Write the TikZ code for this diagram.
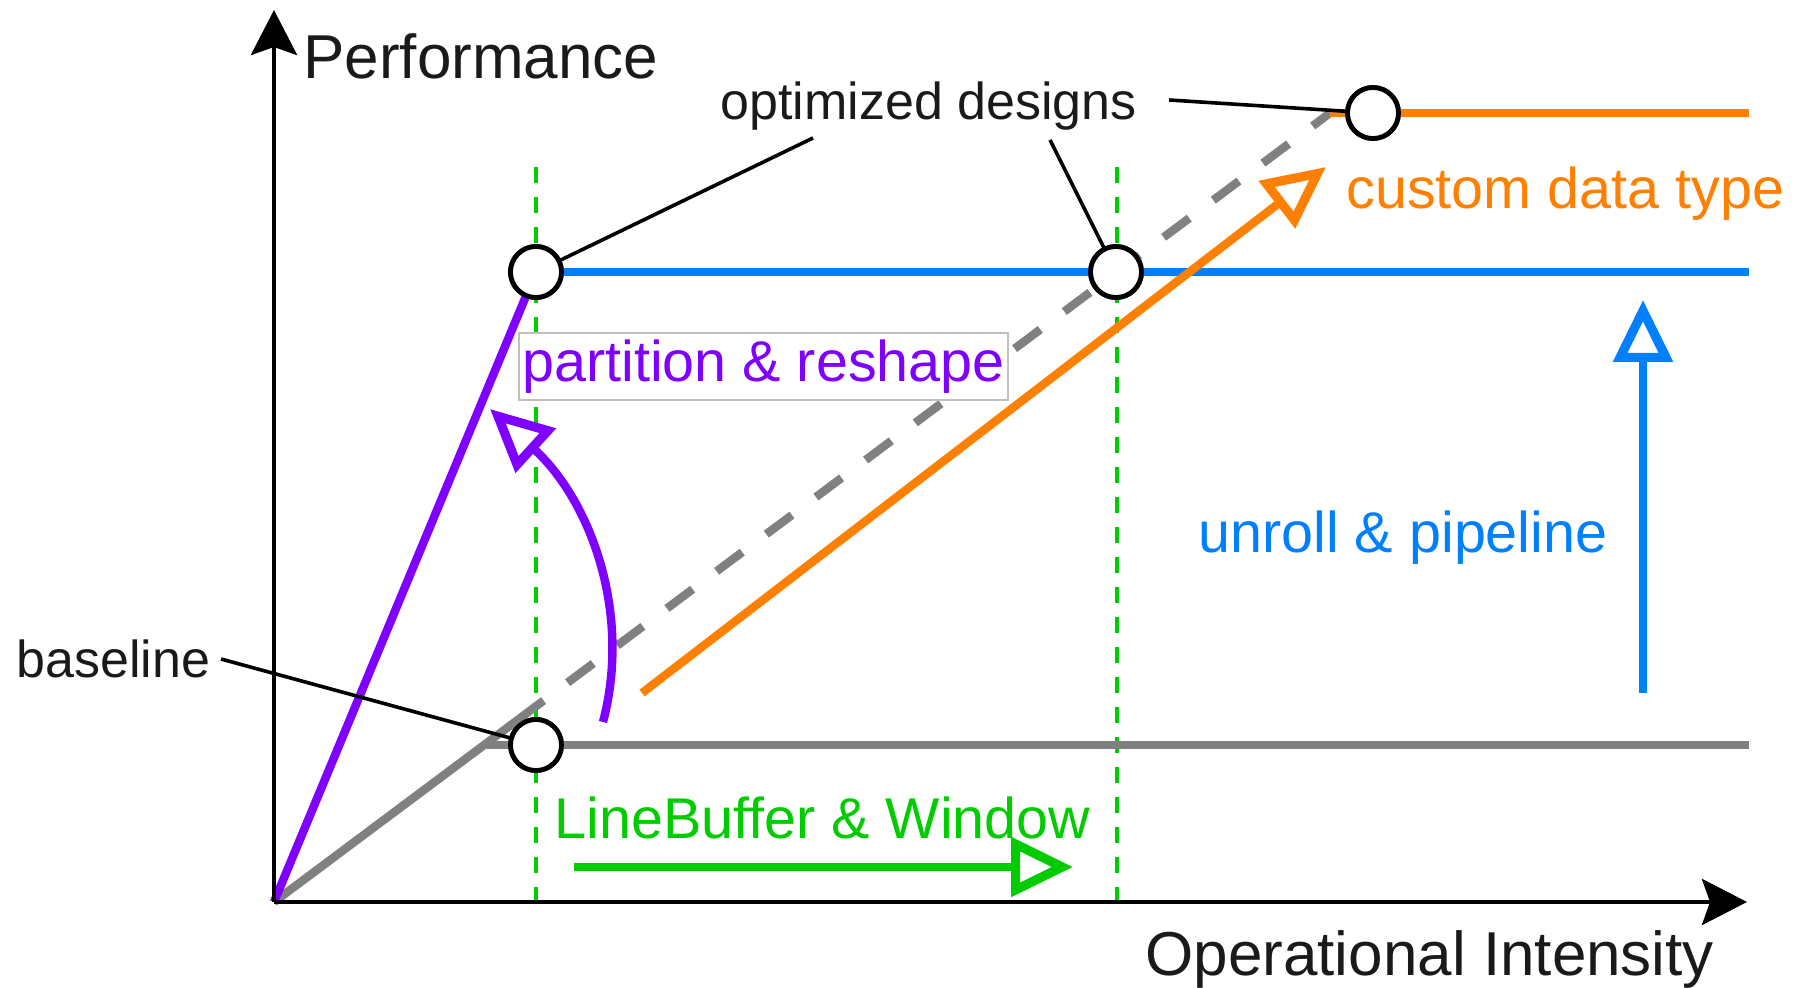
\documentclass[tikz,border=0pt]{standalone}
\usepackage{fontspec}
\setmainfont{Liberation Sans}
\usetikzlibrary{arrows.meta,calc}

\definecolor{cPurple}{HTML}{7F00FF}
\definecolor{cBlue}{HTML}{007FFF}
\definecolor{cOrange}{HTML}{FF8000}
\definecolor{cGreen}{HTML}{00CC00}
\definecolor{cGray}{HTML}{808080}
\definecolor{cBox}{HTML}{C0C0C0}
\definecolor{cText}{HTML}{1A1A1A}

\tikzset{
  axis/.style={line width=2.4pt, draw=black, -{Stealth[length=22.5pt,width=23pt,inset=4pt]}},
  roof/.style={line width=4.2pt},
  guide/.style={line width=2.2pt, draw=cGreen, dash pattern=on 8pt off 7pt},
  leader/.style={line width=1.8pt, draw=black},
  design/.style={circle, draw=black, line width=2.4pt, fill=white, minimum size=25.5pt, inner sep=0pt},
  effect/.style={line width=4.2pt, -{Triangle[length=31pt,width=29pt,fill=white,line width=4.6pt]}},
  axislabel/.style={anchor=base west, inner sep=0pt, text=cText, font=\fontsize{31}{36}\selectfont},
  note/.style={anchor=base west, inner sep=0pt, text=cText, font=\fontsize{26}{30}\selectfont},
  effectlabel/.style={anchor=base west, inner sep=0pt, font=\fontsize{28.75}{33}\selectfont},
}

\begin{document}
\begin{tikzpicture}[x=0.5pt, y=-0.5pt]
\useasboundingbox (0,0) rectangle (1805,988);

% key points of the roofline plot
\coordinate (O) at (274,902);
\coordinate (ytip) at (274,10);
\coordinate (xtip) at (1747,902);
\coordinate (roofD) at (1330,113);
\coordinate (split) at ($(O)!0.231!(roofD)$);
\coordinate (grayL) at (487,745);
\coordinate (grayR) at (1749,745);
\coordinate (blueR) at (1749,272);
\coordinate (orangeR) at (1749,113);

% vertical guides
\coordinate (g1t) at (536,167); \coordinate (g1b) at (536,902);
\coordinate (g2t) at (1117,167); \coordinate (g2b) at (1117,902);
\draw[guide] (g1t) -- (g1b);
\draw[guide] (g2t) -- (g2b);

% design points
\node[design] (A) at (536,745) {};
\node[design] (B) at (536,272) {};
\node[design] (C) at (1116,272) {};
\node[design] (D) at (1373,113) {};

% rooflines
\draw[roof, cGray] (O) -- (split);
\draw[roof, cGray, dash pattern=on 16pt off 15pt] (split) -- (roofD);
\draw[roof, cGray] (grayL) -- (grayR);
\draw[roof, cPurple] (O) -- (B.center);
\draw[roof, cBlue] (B.center) -- (blueR);
\draw[roof, cOrange] (roofD) -- (orangeR);

% optimisation arrows
\coordinate (pa1) at (603,722); \coordinate (pa2) at (490,409);
\coordinate (oa1) at (642,693); \coordinate (oa2) at (1326,167);
\coordinate (ba1) at (1643,693); \coordinate (ba2) at (1643,300);
\coordinate (ga1) at (574,867); \coordinate (ga2) at (1073,867);
\draw[effect, cPurple] (pa1) .. controls (632,612) and (590,500) .. (pa2);
\draw[effect, cOrange] (oa1) -- (oa2);
\draw[effect, cBlue] (ba1) -- (ba2);
\draw[effect, cGreen] (ga1) -- (ga2);

% axes
\draw[axis] (O) -- (ytip);
\draw[axis] (O) -- (xtip);

% annotation leaders
\coordinate (ldA) at (221,659);
\coordinate (ldB) at (813,138);
\coordinate (ldC) at (1050,140);
\coordinate (ldD) at (1169,100);
\draw[leader] (ldA) -- (A.center);
\draw[leader] (ldB) -- (B.center);
\draw[leader] (ldC) -- (C.center);
\draw[leader] (ldD) -- (D.center);

% redraw the points above their leaders
\node[design] at (A) {};
\node[design] at (B) {};
\node[design] at (C) {};
\node[design] at (D) {};

% labels
\node[axislabel] (perf) at (303,79) {Performance};
\node[axislabel] (oi) at (1145,975) {Operational Intensity};
\node[note] (opt) at (720,120) {optimized designs};
\node[note] (base) at (16,678) {baseline};
\node[draw=cBox, line width=0.6pt, fill=white, inner sep=0pt,
      minimum width=244.5pt, minimum height=33.5pt, text=cPurple,
      font=\fontsize{28.75}{33}\selectfont] (pr) at (763.5,366.5) {partition \& reshape};
\node[effectlabel, text=cOrange] (cdt) at (1346,209) {custom data type};
\node[effectlabel, text=cBlue] (up) at (1198,553) {unroll \& pipeline};
\node[effectlabel, text=cGreen] (lbw) at (554,838) {LineBuffer \& Window};
\end{tikzpicture}
\end{document}
